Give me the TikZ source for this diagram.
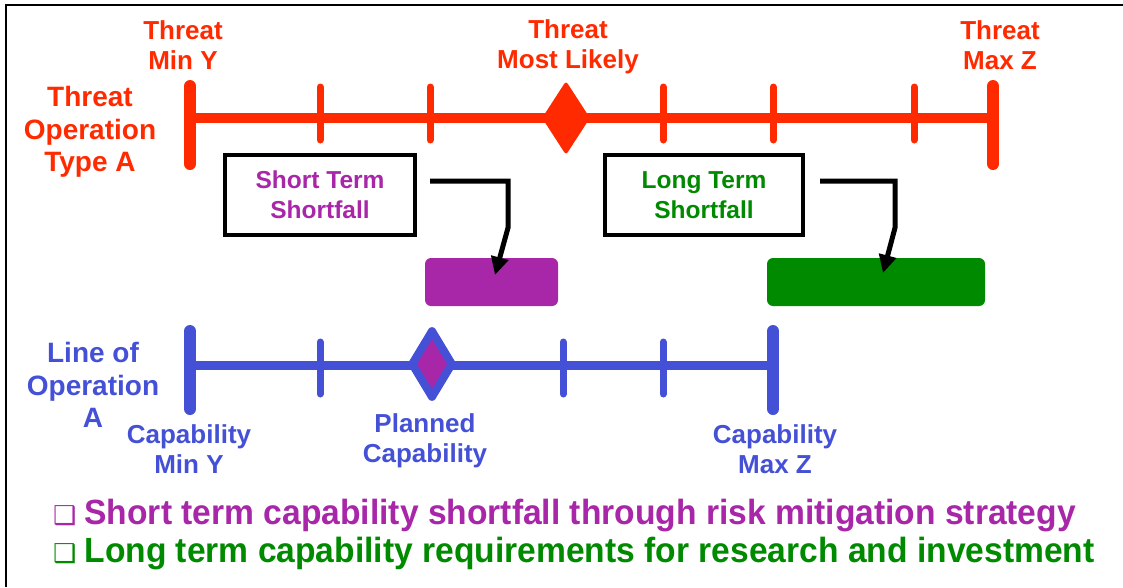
\documentclass[tikz,border=0pt]{standalone}
\usepackage{fontspec}
\setmainfont{Liberation Sans}
\newfontfamily\symfont{DejaVu Sans}
\newfontfamily\notefont[FakeStretch=0.96]{Liberation Sans}
\usepackage{tikz}
\usetikzlibrary{positioning,shapes.geometric,arrows.meta,calc}
\definecolor{threatred}{RGB}{255,42,0}
\definecolor{capblue}{RGB}{68,80,214}
\definecolor{shortpurple}{RGB}{168,38,168}
\definecolor{longgreen}{RGB}{0,138,0}

\begin{document}
\begin{tikzpicture}[x=1pt,y=-1pt,
    lbl/.style={font=\bfseries\fontsize{26}{30}\selectfont,align=center,inner sep=0pt},
    sidelbl/.style={lbl,font=\bfseries\fontsize{28}{32.5}\selectfont},
    tick/.style={line width=7pt,line cap=round},
    endtick/.style={line width=12pt,line cap=round},
    gapbox/.style={lbl,font=\bfseries\fontsize{24.5}{30}\selectfont,draw=black,line width=4pt,minimum width=190pt,minimum height=80pt},
    fillbox/.style={rounded corners=6pt,minimum height=48pt,inner sep=0pt},
    conn/.style={line width=5pt,-{Triangle[length=18pt,width=17pt]}},
    bullet/.style={font=\notefont\bfseries\fontsize{35}{40}\selectfont,anchor=base west,inner sep=0pt}]
  \useasboundingbox (0,0) rectangle (1123,587);
  \draw[line width=2pt] (1123,5) -- (6,5) -- (6,587);

  % threat line
  \coordinate (tmin) at (190,118);
  \coordinate (tmax) at (993,118);
  \draw[threatred,line width=10pt] (tmin) -- (tmax);
  \foreach \x in {190,993}
    \draw[threatred,endtick] (\x,86) -- (\x,164);
  \foreach \x in {320,430,663,773,914}
    \draw[threatred,tick] (\x,87) -- (\x,140);
  \node[diamond,fill=threatred,minimum width=48pt,minimum height=74pt,inner sep=0pt,rounded corners=3pt](tlikely) at (566,118){};
  \node[lbl,text=threatred](tminlbl) at (183,45){Threat\\Min Y};
  \node[lbl,text=threatred](tlikelylbl) at (568,47){Threat\\Most Likely};
  \node[lbl,text=threatred](tmaxlbl) at (1000,45){Threat\\Max Z};
  \node[sidelbl,text=threatred](threatop) at (90,132){Threat\\Operation\\Type A};

  % shortfall boxes
  \node[gapbox,text=shortpurple](stbox) at (320,195){Short Term\\Shortfall};
  \node[gapbox,text=longgreen,minimum width=198pt](ltbox) at (704,195){Long Term\\Shortfall};
  \node[fillbox,fill=shortpurple,minimum width=133pt](stfill) at (491.5,282){};
  \node[fillbox,fill=longgreen,minimum width=218pt](ltfill) at (876,282){};
  \draw[conn] ($(stbox.east)+(13,-14)$) -| ($(stfill.north)+(16.5,-30)$) -- ($(stfill.center)+(3.5,-7)$);
  \draw[conn] ($(ltbox.east)+(15,-14)$) -| ($(ltfill.north)+(19,-30)$) -- ($(ltfill.center)+(7,-9)$);

  % capability line
  \coordinate (cmin) at (190,365);
  \coordinate (cmax) at (773,365);
  \draw[capblue,line width=9pt] (cmin) -- (cmax);
  \foreach \x in {190,773}
    \draw[capblue,endtick] (\x,331) -- (\x,409);
  \foreach \x in {320,563,663}
    \draw[capblue,tick] (\x,342) -- (\x,394);
  \node[diamond,draw=capblue,fill=shortpurple,line width=8pt,line join=round,minimum width=43pt,minimum height=69pt,inner sep=0pt](cplan) at (432,364){};
  \node[sidelbl,text=capblue](lineop) at (93,385){Line of\\Operation\\A};
  \node[lbl,text=capblue](cminlbl) at (189,449){Capability\\Min Y};
  \node[lbl,text=capblue](cplanlbl) at (425,441){Planned\\Capability};
  \node[lbl,text=capblue](cmaxlbl) at (775,449){Capability\\Max Z};

  % bullets
  \node[bullet,text=shortpurple](shortnote) at (53,524){{\symfont\fontsize{26}{26}\selectfont ❑}\hspace{8pt}Short term capability shortfall through risk mitigation strategy};
  \node[bullet,text=longgreen](longnote) at (53,562){{\symfont\fontsize{26}{26}\selectfont ❑}\hspace{8pt}Long term capability requirements for research and investment};
\end{tikzpicture}
\end{document}
